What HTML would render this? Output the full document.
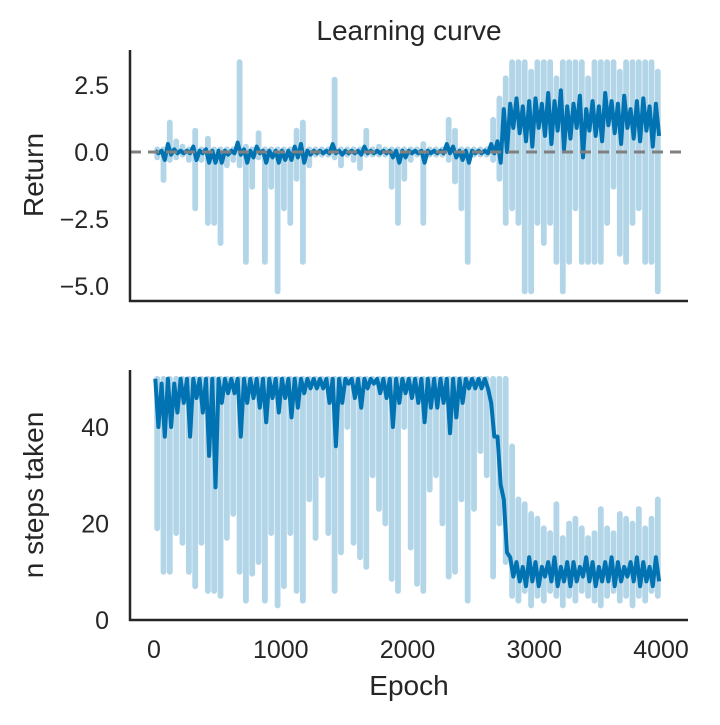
<!DOCTYPE html>
<html><head><meta charset="utf-8"><style>
body{margin:0;background:#fff}
svg{font-family:"Liberation Sans","DejaVu Sans",sans-serif}
</style></head><body>
<svg id="chart" width="720" height="720" viewBox="0 0 720 720" xmlns="http://www.w3.org/2000/svg">
<rect width="720" height="720" fill="#fff"/>
<text x="409" y="40" font-size="28" text-anchor="middle" fill="#262626">Learning curve</text>
<g id="top"></g>
<g id="bot"></g>
<text transform="translate(43,175) rotate(-90)" font-size="28" text-anchor="middle" fill="#262626">Return</text>
<text transform="translate(43,495) rotate(-90)" font-size="28" text-anchor="middle" fill="#262626">n steps taken</text>
<text x="409" y="695" font-size="28" text-anchor="middle" fill="#262626">Epoch</text>
</svg>
<script>
const binSize = 50;
const topHi = [0.1,0.1,1.1,0.4,0.2,0.1,0.8,0.1,0.5,0.1,0.1,0.1,0.1,3.35,0.2,0.1,0.7,0.1,0.1,0.1,0.1,0.1,0.8,1.1,0.1,0.1,0.1,0.1,2.7,0.1,0.1,0.1,0.1,0.8,0.1,0.2,0.1,0.1,0.1,0.1,0.1,0.1,0.3,0.1,0.1,0.1,1.2,0.8,0.1,0.1,0.1,0.1,0.1,1.2,2.0,
2.75,3.35,3.35,3.35,3.0,3.35,3.35,3.35,2.75,3.35,3.35,3.35,3.35,2.75,3.35,3.35,3.35,3.35,3.0,3.35,3.35,3.35,3.35,3.35,3.0];
const topLo = [-0.2,-1.05,-0.3,-0.2,-0.1,-0.3,-2.1,-0.3,-2.65,-2.65,-3.4,-0.5,-0.3,-0.5,-4.1,-1.3,-0.2,-4.1,-1.3,-5.2,-2.1,-2.65,-1.0,-4.1,-0.5,-0.1,-0.1,-0.1,-0.2,-0.5,-0.1,-0.3,-0.6,-0.1,-0.1,-0.1,-0.1,-1.3,-2.65,-1.0,-0.3,-0.1,-2.65,-0.1,-0.1,-0.1,-0.3,-1.1,-2.1,-4.1,-0.1,-0.1,-0.1,-0.3,-1.0,
-2.65,-2.1,-2.65,-5.2,-5.2,-2.65,-3.4,-2.65,-4.1,-5.2,-4.1,-2.1,-4.1,-4.1,-4.1,-4.1,-2.65,-1.3,-3.8,-4.1,-2.65,-2.1,-4.1,-4.1,-5.2];
const topMHi = [0.05,0.05,0.3,0.1,0.05,0.05,0.2,0.05,0.1,0.05,0.05,0.05,0.05,0.35,0.1,0.05,0.2,0.05,0.05,0.05,0.05,0.05,0.2,0.3,0.05,0.05,0.05,0.05,0.3,0.05,0.05,0.05,0.05,0.2,0.05,0.05,0.05,0.05,0.05,0.05,0.05,0.05,0.05,0.05,0.05,0.05,0.3,0.2,0.05,0.05,0.05,0.05,0.05,0.3,0.4,
1.6,1.8,2.0,1.7,1.9,2.0,1.8,2.2,1.9,2.3,1.7,1.8,2.1,1.6,1.9,1.7,2.2,1.9,1.8,2.1,1.6,1.9,2.0,1.7,1.8];
const topMLo = [-0.05,-0.3,-0.1,-0.05,-0.05,-0.05,-0.3,-0.05,-0.4,-0.4,-0.4,-0.1,-0.05,-0.1,-0.4,-0.2,-0.05,-0.4,-0.2,-0.4,-0.3,-0.3,-0.2,-0.4,-0.1,-0.05,-0.05,-0.05,-0.05,-0.1,-0.05,-0.05,-0.1,-0.05,-0.05,-0.05,-0.05,-0.2,-0.4,-0.2,-0.05,-0.05,-0.4,-0.05,-0.05,-0.05,-0.05,-0.2,-0.3,-0.4,-0.05,-0.05,-0.05,-0.05,-0.4,
0.0,0.9,0.7,0.4,0.2,0.9,0.6,0.3,0.8,0.1,0.5,0.9,-0.2,0.8,0.6,0.4,1.0,0.7,0.3,0.9,0.5,0.4,0.8,0.2,0.6];
const botHi = [50,50,50,50,50,50,50,50,50,50,50,50,50,50,50,50,50,50,50,50,50,50,50,50,50,50,50,50,50,50,50,50,50,50,50,50,50,50,50,50,50,50,50,50,50,50,50,50,50,50,50,50,50,50,50,50,
36,25,24,22,21,19,18,24,17,20,21,19,17,18,23,19,18,22,21,20,23,19,21,25];
const botLo = [19,10,10,18,16,10,7,16,6,6,5,17,22,10,4,9.6,12,4,18,3,7,18,6,4,25,17,30,18,6,14,40,16,13,11,30,23,20,8.5,6,40,15,7.5,6,27,30,20,9,10,25,4,23,35,30,9,20,12,
5,4,6,3,5,4,6,5,3,5,4,6,5,4,3,5,6,4,5,3,5,4,6,5];
const botMHi = [50,49,50,49,50,50,50,50,50,50,50,50,50,50,50,50,50,50,50,50,50,50,50,50,50,50,50,50,50,50,50,50,50,50,50,50,50,50,50,50,50,50,50,50,50,50,50,50,50,50,50,50,50,45,38,25,
13,12,11,13,12,11,12,13,11,12,12,11,13,12,11,12,13,12,11,12,13,12,11,13];
const botMLo = [40,38,40,43,45,38,46,43,34,27.5,45,47,47,38,45,46,44,41,46,43,46,42,44,47,48,48,48,45,36,45,49,46,44,48,49,47,46,40,45,47,46,45,41,44,44,45,38.7,42,45,48,48,48,48,38,28,14,
9,8,7,8,7,9,8,7,8,7,8,9,8,7,8,8,7,8,9,8,7,8,7,8];
const topYTicks = [2.5, 0.0, -2.5, -5.0];
const topYLabels = ["2.5","0.0","\u22122.5","\u22125.0"];
const botYTicks = [0, 20, 40];
const xTicks = [0, 1000, 2000, 3000, 4000];

const NS = "http://www.w3.org/2000/svg";
const L = 130, R = 688;
const xs = e => 154 + e * 0.12675;
const yTop = v => 152 - v * 26.8;
const yBot = v => 620 - v * 4.825;

function mk(tag, attrs, parent){ const el = document.createElementNS(NS, tag); for (const k in attrs) el.setAttribute(k, attrs[k]); parent.appendChild(el); return el; }

function bars(hi, lo, yf){
  let d = "";
  for (let i = 0; i < hi.length; i++){
    const x = xs(i * binSize + binSize * 0.5).toFixed(1);
    d += "M" + x + "," + yf(hi[i]).toFixed(1) + "V" + yf(lo[i]).toFixed(1);
  }
  return d;
}
function zig(hi, lo, yf){
  let pts = [];
  for (let i = 0; i < hi.length; i++){
    const e0 = i * binSize;
    pts.push(xs(e0 + binSize*0.2).toFixed(1) + "," + yf(hi[i]).toFixed(1));
    pts.push(xs(e0 + binSize*0.7).toFixed(1) + "," + yf(lo[i]).toFixed(1));
  }
  return pts.join(" ");
}

const gt = document.getElementById("top"), gb = document.getElementById("bot");

const lt = mk("path", {d: bars(topHi, topLo, yTop), fill:"none", stroke:"#b3d5e8", "stroke-width":5.8, "stroke-linecap":"round"}, gt);


const dt = mk("polyline", {points: zig(topMHi, topMLo, yTop), fill:"none", stroke:"#0173b2", "stroke-width":4, "stroke-linejoin":"round"}, gt);


const zl = mk("line", {x1:L, x2:R, y1:yTop(0), y2:yTop(0), stroke:"#808080", "stroke-width":3, "stroke-dasharray":"11,7"}, gt);



const lb = mk("path", {d: bars(botHi, botLo, yBot), fill:"none", stroke:"#b3d5e8", "stroke-width":5.8, "stroke-linecap":"round"}, gb);


const db = mk("polyline", {points: zig(botMHi, botMLo, yBot), fill:"none", stroke:"#0173b2", "stroke-width":4, "stroke-linejoin":"round"}, gb);



[[gt,50,301],[gb,370,620]].forEach(([g,t,b],k)=>{
  const s1 = mk("line",{x1:L,x2:L,y1:t,y2:b+1,stroke:"#262626","stroke-width":2.5},g);
  
  
  const s2 = mk("line",{x1:L-1,x2:R,y1:b,y2:b,stroke:"#262626","stroke-width":2.5},g);
  
  
});

topYTicks.forEach((v,i)=>{
  const t = mk("text",{x:109,y:yTop(v)+9,"font-size":25,"text-anchor":"end",fill:"#262626"},gt);
  t.textContent = topYLabels[i];
  
  
});
botYTicks.forEach(v=>{
  const t = mk("text",{x:109,y:yBot(v)+9,"font-size":25,"text-anchor":"end",fill:"#262626"},gb);
  t.textContent = String(v);
  
  
});
xTicks.forEach(v=>{
  const t = mk("text",{x:xs(v),y:658,"font-size":25,"text-anchor":"middle",fill:"#262626"},gb);
  t.textContent = String(v);
  
  
});
</script>
</body></html>
